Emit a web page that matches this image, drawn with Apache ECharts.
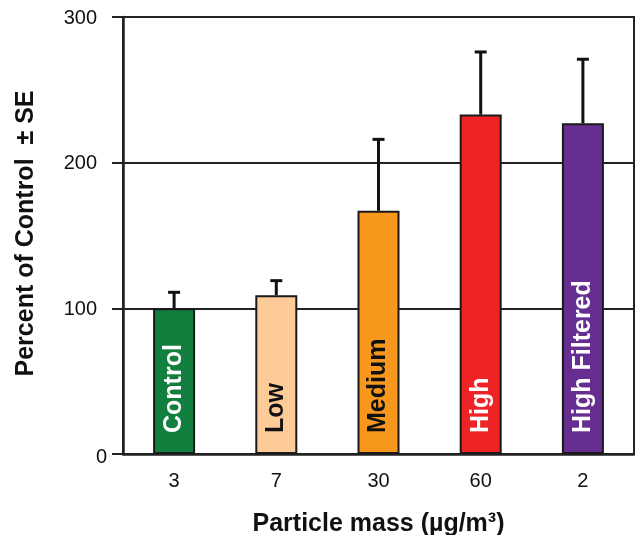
<!DOCTYPE html>
<html>
<head>
<meta charset="utf-8">
<script src="https://cdn.jsdelivr.net/npm/echarts@6/dist/echarts.min.js"></script>
<style>
html,body{margin:0;padding:0;background:#fff;}
#main{width:635px;height:535px;}
</style>
</head>
<body>
<div id="main"></div>
<script>
var categories = ['3', '7', '30', '60', '2'];
var groupNames = ['Control', 'Low', 'Medium', 'High', 'High Filtered'];
var values = [100, 109, 167, 233, 227];
var errorTops = [111, 119, 216, 276, 271];
var barColors = ['#127F3E', '#FDCB98', '#F7981D', '#EE2325', '#662E91'];
var labelColors = ['#ffffff', '#111111', '#111111', '#ffffff', '#ffffff'];
var yTicks = [0, 100, 200, 300];

var FONT = 'Liberation Sans, Arial, Helvetica, sans-serif';
var chart = echarts.init(document.getElementById('main'), null, {renderer: 'canvas'});

var barData = values.map(function (v, i) {
  return {
    value: v,
    itemStyle: {color: barColors[i]},
    label: {color: labelColors[i], formatter: groupNames[i]}
  };
});
var errData = values.map(function (v, i) { return [i, v, errorTops[i]]; });

var option = {
  animation: false,
  backgroundColor: '#ffffff',
  grid: {left: 123, right: 1, top: 17, bottom: 81, containLabel: false, outerBoundsMode: 'none',
         show: true, borderColor: '#222', borderWidth: 2, backgroundColor: 'transparent'},
  xAxis: {
    type: 'category',
    data: categories,
    axisLine: {show: true, lineStyle: {color: '#222', width: 2.5}},
    axisTick: {show: false},
    axisLabel: {color: '#111', fontFamily: FONT, fontSize: 20, margin: 17},
    name: 'Particle mass (µg/m³)',
    nameLocation: 'middle',
    nameGap: 58,
    nameTextStyle: {color: '#111', fontFamily: FONT, fontSize: 25, fontWeight: 'bold'}
  },
  yAxis: {
    type: 'value',
    min: 0, max: 300, interval: 100,
    axisLine: {show: true, lineStyle: {color: '#222', width: 2.5}},
    axisTick: {show: true, inside: false, length: 11, lineStyle: {color: '#222', width: 2}},
    splitLine: {show: true, lineStyle: {color: '#222', width: 2}},
    axisLabel: {
      color: '#111', fontFamily: FONT, fontSize: 20, margin: 16,
      formatter: function (v) { return v === 0 ? '{z|0}' : '{n|' + v + '}'; },
      rich: {
        z: {fontFamily: FONT, fontSize: 20, color: '#111', padding: [6, 0, 0, 0]},
        n: {fontFamily: FONT, fontSize: 20, color: '#111', padding: [2, 10, 0, 0]}
      }
    },
    name: 'Percent of Control  ± SE',
    nameLocation: 'middle',
    nameGap: 84,
    nameTextStyle: {color: '#111', fontFamily: FONT, fontSize: 25, fontWeight: 'bold', padding: [0, 0, 0, 4]}
  },
  series: [
    {
      type: 'bar',
      data: barData,
      barWidth: 42,
      itemStyle: {borderColor: '#1a1a1a', borderWidth: 2},
      label: {
        show: true,
        position: 'insideBottom',
        distance: 21,
        rotate: 90,
        align: 'left',
        verticalAlign: 'middle',
        fontFamily: FONT,
        fontSize: 25,
        fontWeight: 'bold'
      },
      z: 2
    },
    {
      type: 'custom',
      data: errData,
      z: 3,
      renderItem: function (params, api) {
        var x = api.value(0);
        var base = api.coord([x, api.value(1)]);
        var top = api.coord([x, api.value(2)]);
        var half = 6;
        var st = {stroke: '#111', lineWidth: 3};
        return {
          type: 'group',
          children: [
            {type: 'line', shape: {x1: base[0], y1: base[1], x2: top[0], y2: top[1]}, style: st},
            {type: 'line', shape: {x1: top[0] - half, y1: top[1], x2: top[0] + half, y2: top[1]}, style: st}
          ]
        };
      }
    }
  ]
};
chart.setOption(option);
</script>
</body>
</html>
